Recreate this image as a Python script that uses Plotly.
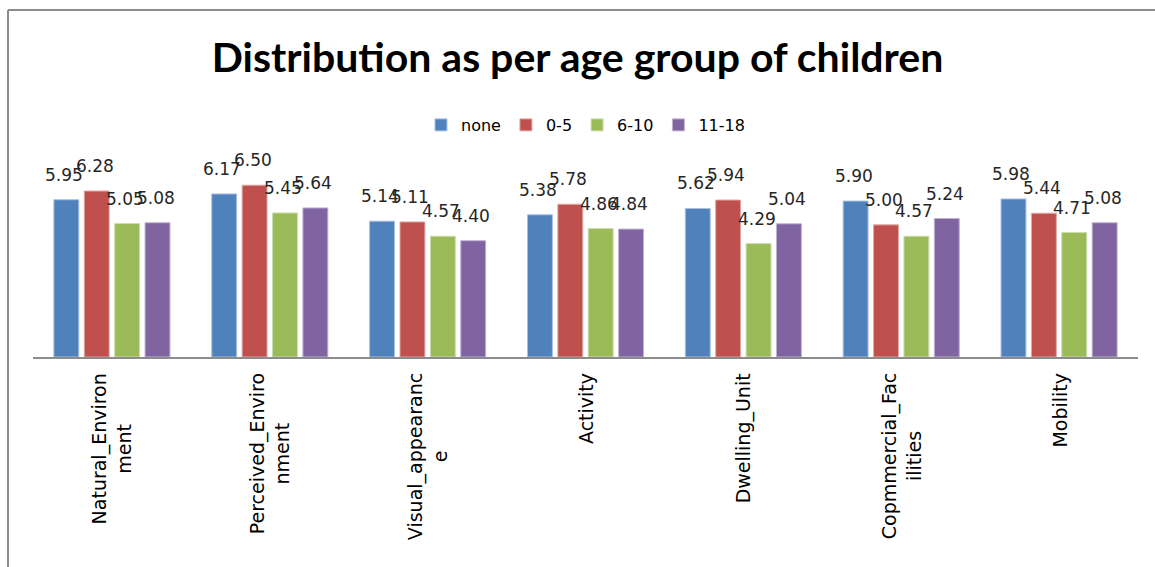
import plotly.graph_objects as go

# Category labels (with the original line breaks) and series values
categories = [
    "Natural_Environ<br>ment",
    "Perceived_Enviro<br>nment",
    "Visual_appearanc<br>e",
    "Activity",
    "Dwelling_Unit",
    "Copmmercial_Fac<br>ilities",
    "Mobility",
]
series_names = ["none", "0-5", "6-10", "11-18"]
none_vals = [5.95, 6.17, 5.14, 5.38, 5.62, 5.90, 5.98]
age_0_5 = [6.28, 6.50, 5.11, 5.78, 5.94, 5.00, 5.44]
age_6_10 = [5.05, 5.45, 4.57, 4.86, 4.29, 4.57, 4.71]
age_11_18 = [5.08, 5.64, 4.40, 4.84, 5.04, 5.24, 5.08]

series_values = [none_vals, age_0_5, age_6_10, age_11_18]
fill_colors = ["#4F81BD", "#C0504D", "#9BBB59", "#8064A2"]
edge_colors = ["#A9C0E0", "#E0A9A7", "#CDDDAC", "#BFB2D1"]

W, H = 1155, 567
L, R = 33, W - 1138
T_PIX, B_PIX = 172, 357
Y_MAX = 7.0
BARGAP, BARGROUPGAP = 0.23, 0.18

plot_w = W - L - R
plot_h = B_PIX - T_PIX

fig = go.Figure()
for name, vals, fc, ec in zip(series_names, series_values, fill_colors, edge_colors):
    fig.add_trace(go.Bar(
        name=name,
        x=categories,
        y=vals,
        marker=dict(color=fc, line=dict(color=ec, width=1)),
    ))

# Value labels above each bar, shifted to the bar's slot within its group
slot_px = plot_w / len(categories) * (1 - BARGAP) / len(series_names)
for i, vals in enumerate(series_values):
    shift = (i - (len(series_names) - 1) / 2) * slot_px
    for cat, v in zip(categories, vals):
        fig.add_annotation(
            x=cat, xref="x", y=v, yref="y",
            text=f"{v:.2f}", showarrow=False,
            xanchor="center", yanchor="bottom",
            xshift=shift - 2, yshift=13,
            font=dict(family="DejaVu Sans", size=17, color="#262626"),
        )

# Rotated category labels, centred line by line
for cat in categories:
    fig.add_annotation(
        x=cat, xref="x",
        y=-14 / plot_h, yref="paper",
        text=cat, textangle=-90,
        showarrow=False,
        xanchor="center", yanchor="top",
        align="center",
        font=dict(family="DejaVu Sans", size=19, color="#000000"),
    )

# Frame edges at the top and left of the chart area
def px_to_paper_x(px):
    return (px - L) / plot_w
def px_to_paper_y(py):
    return (B_PIX - py) / plot_h

fig.add_shape(type="line", xref="paper", yref="paper",
              x0=px_to_paper_x(8), x1=px_to_paper_x(W + 5),
              y0=px_to_paper_y(10), y1=px_to_paper_y(10),
              line=dict(color="#8C8C8C", width=2))
fig.add_shape(type="line", xref="paper", yref="paper",
              x0=px_to_paper_x(8), x1=px_to_paper_x(8),
              y0=px_to_paper_y(10), y1=px_to_paper_y(H + 5),
              line=dict(color="#8C8C8C", width=2))

fig.update_layout(
    width=W, height=H,
    margin=dict(l=L, r=R, t=T_PIX, b=H - B_PIX, pad=0),
    paper_bgcolor="white",
    plot_bgcolor="white",
    barmode="group",
    bargap=BARGAP,
    bargroupgap=BARGROUPGAP,
    title=dict(
        text="<b>Distribution as per age group of children</b>",
        font=dict(family="Lato", size=41, color="#000000"),
        x=0.5, xanchor="center",
        y=1 - 58 / H, yanchor="middle",
    ),
    legend=dict(
        orientation="h",
        x=0.5, xanchor="center",
        y=px_to_paper_y(125), yanchor="middle",
        font=dict(family="DejaVu Sans", size=16, color="#000000"),
        itemwidth=30,
        traceorder="normal",
    ),
    xaxis=dict(
        showticklabels=False,
        ticks="",
        showline=True,
        linecolor="#8C8C8C",
        linewidth=2,
        showgrid=False,
    ),
    yaxis=dict(
        range=[0, Y_MAX],
        visible=False,
        showgrid=False,
    ),
    showlegend=True,
)

fig.write_html("out.html")
